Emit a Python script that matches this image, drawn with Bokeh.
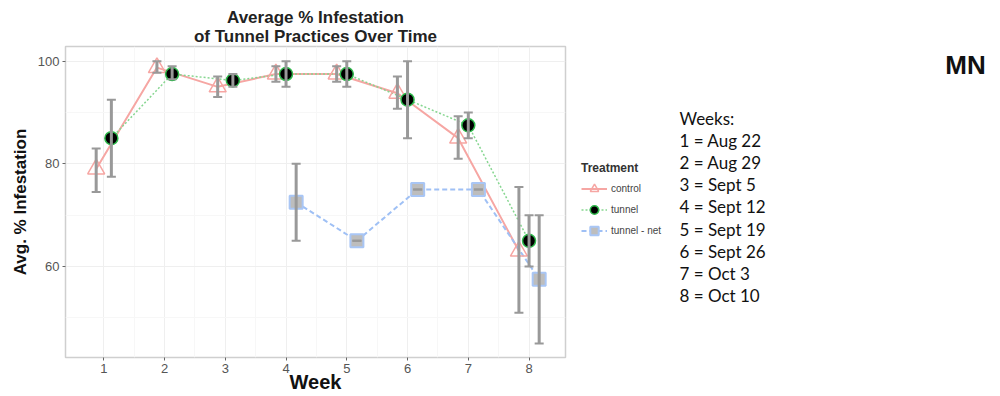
from bokeh.plotting import figure
from bokeh.layouts import row
from bokeh.models import (Range1d, ColumnDataSource, Whisker, TeeHead, Legend,
                          LegendItem, FixedTicker, Title)
from bokeh.core.properties import value
from bokeh.embed import file_html
from bokeh.resources import INLINE

# ---------------- data ----------------
weeks = [1, 2, 3, 4, 5, 6, 7, 8]
week_dates = ["Aug 22", "Aug 29", "Sept 5", "Sept 12", "Sept 19", "Sept 26", "Oct 3", "Oct 10"]

control_weeks = [1, 2, 3, 4, 5, 6, 7, 8]
control_mean = [79, 98.75, 95, 97.5, 97.5, 93.75, 85, 63]
control_lo = [74.5, 97.75, 93, 96, 96, 90.75, 81, 51]
control_hi = [83, 100, 97, 99, 99, 97, 89.25, 75.5]

tunnel_weeks = [1, 2, 3, 4, 5, 6, 7, 8]
tunnel_mean = [85, 97.5, 96.25, 97.5, 97.5, 92.5, 87.5, 65]
tunnel_lo = [77.5, 96.5, 95, 95, 95, 85, 85, 60]
tunnel_hi = [92.5, 99, 97.5, 100, 100, 100, 90, 70]

net_weeks = [4, 5, 6, 7, 8]
net_mean = [72.5, 65, 75, 75, 57.5]
net_lo = [65, 65, 75, 75, 45]
net_hi = [80, 65, 75, 75, 70]

groups = ["control", "tunnel", "tunnel - net"]
group_weeks = [control_weeks, tunnel_weeks, net_weeks]

# ---------------- dodge (like position_dodge(width=0.5)) ----------------
DODGE = 0.5
def dodged(gi):
    out = []
    for w in group_weeks[gi]:
        present = [k for k in range(len(groups)) if w in group_weeks[k]]
        n = len(present)
        i = present.index(gi)
        out.append(w + (i - (n - 1) / 2) * DODGE / n)
    return out

cx, tx, nx = dodged(0), dodged(1), dodged(2)

# ---------------- main figure ----------------
TOTAL_W, H = 1000, 396
W1 = 575
BL, BT, FW, FH = 65, 46, 500, 311
BR = W1 - BL - FW
BB = H - BT - FH
X0, X1 = 0.37, 8.6
Y0, Y1 = 42.27, 102.86
FONT = "Liberation Sans"

p = figure(width=W1, height=H, output_backend="svg", toolbar_location=None,
           x_range=Range1d(X0, X1), y_range=Range1d(Y0, Y1),
           min_border_left=BL, min_border_right=BR,
           min_border_top=BT, min_border_bottom=BB)
p.background_fill_color = "white"
p.border_fill_color = "white"
p.outline_line_color = "#cfcfcf"
p.outline_line_width = 1.5

# title (two lines, stacked outward from the frame)
for txt, so in [("of Tunnel Practices Over Time", 1), ("Average % Infestation", -4)]:
    p.add_layout(Title(text=txt, align="center", text_font=FONT,
                       text_font_size="17px", text_font_style="bold",
                       text_color="#222222", standoff=so, offset=0), "above")

p.xaxis.ticker = FixedTicker(ticks=weeks, minor_ticks=[w + 0.5 for w in weeks[:-1]])
p.yaxis.ticker = FixedTicker(ticks=[60, 80, 100], minor_ticks=[50, 70, 90])
for ax in (p.xaxis, p.yaxis):
    ax.axis_line_color = None
    ax.major_tick_line_color = "#666666"
    ax.major_tick_out = 3
    ax.major_tick_in = 0
    ax.minor_tick_line_color = None
    ax.major_label_standoff = 2
    ax.major_label_text_font_size = "13px"
    ax.major_label_text_color = "#555555"
    ax.major_label_text_font = FONT
    ax.axis_label_text_font = FONT
    ax.axis_label_text_font_style = "bold"
    ax.axis_label_text_color = "#111111"
p.yaxis.axis_label = "Avg. % Infestation"
p.yaxis.axis_label_text_font_size = "17px"
p.yaxis.axis_label_standoff = 5
p.xaxis.axis_label = "Week"
p.xaxis.axis_label_text_font_size = "20px"
p.xaxis.axis_label_standoff = -5

p.xgrid.grid_line_color = "#efefef"
p.ygrid.grid_line_color = "#efefef"
p.xgrid.minor_grid_line_color = "#f7f7f7"
p.ygrid.minor_grid_line_color = "#f7f7f7"

# ---------------- series ----------------
C_COL, T_COL, N_COL = "#f6a6a3", "#86d690", "#9fc0f5"
C_STYLE = dict(marker="triangle", size=17, fill_color=None, line_color=C_COL, line_width=1.5)
T_STYLE = dict(marker="circle", size=13, fill_color="black", line_color="#2fb94c", line_width=1.5)
N_STYLE = dict(marker="square", size=13, fill_color="#bdbdbd", line_color="#a9c6f5", line_width=2)
CL_STYLE = dict(line_color=C_COL, line_width=2)
TL_STYLE = dict(line_color=T_COL, line_width=1.5, line_dash="2 2")
NL_STYLE = dict(line_color=N_COL, line_width=2, line_dash="5 3")

src_c = ColumnDataSource(dict(x=cx, y=control_mean, lo=control_lo, hi=control_hi))
src_t = ColumnDataSource(dict(x=tx, y=tunnel_mean, lo=tunnel_lo, hi=tunnel_hi))
src_n = ColumnDataSource(dict(x=nx, y=net_mean, lo=net_lo, hi=net_hi))

p.line("x", "y", source=src_c, **CL_STYLE)
p.line("x", "y", source=src_t, **TL_STYLE)
p.line("x", "y", source=src_n, **NL_STYLE)
p.scatter("x", "y", source=src_c, **C_STYLE)
p.scatter("x", "y", source=src_t, **T_STYLE)
p.scatter("x", "y", source=src_n, **N_STYLE)

ERR = "#999999"
for src in (src_c, src_t, src_n):
    wk = Whisker(source=src, base="x", upper="hi", lower="lo", dimension="height",
                 line_color=ERR, line_width=3, level="overlay",
                 upper_head=TeeHead(size=9, line_color=ERR, line_width=2),
                 lower_head=TeeHead(size=9, line_color=ERR, line_width=2))
    p.add_layout(wk)

# ---------------- right-hand panel: legend + week key ----------------
W2 = TOTAL_W - W1
q = figure(width=W2, height=H, output_backend="svg", toolbar_location=None,
           x_range=Range1d(W1, TOTAL_W), y_range=Range1d(BT + FH, BT),
           min_border_left=0, min_border_right=0,
           min_border_top=BT, min_border_bottom=BB,
           x_axis_location=None, y_axis_location=None)
q.grid.visible = False
q.outline_line_color = None
q.background_fill_color = "white"
q.border_fill_color = "white"

# legend proxies (hidden copies of the series, only used to draw the keys)
items = []
for gi, (src, ls, ms) in enumerate([(src_c, CL_STYLE, C_STYLE),
                                    (src_t, TL_STYLE, T_STYLE),
                                    (src_n, NL_STYLE, N_STYLE)]):
    r1 = q.line("x", "y", source=src, visible=False, **ls)
    r2 = q.scatter("x", "y", source=src, visible=False, **ms)
    items.append(LegendItem(label=groups[gi], renderers=[r1, r2]))

legend = Legend(items=items, location=(6, 116), title="Treatment")
legend.title_text_font = FONT
legend.title_text_font_size = "12px"
legend.title_text_font_style = "bold"
legend.title_text_color = "#333333"
legend.title_standoff = 3
legend.label_text_font = FONT
legend.label_text_font_size = "10px"
legend.label_text_color = "#444444"
legend.glyph_width = 26
legend.glyph_height = 21
legend.label_standoff = 4
legend.spacing = 0
legend.padding = 2
legend.margin = 0
legend.border_line_color = None
legend.background_fill_alpha = 0
q.add_layout(legend, "center")

lines = ["Weeks:"] + [f"{w} = {d}" for w, d in zip(weeks, week_dates)]
q.text(x=[679] * len(lines), y=[118 + i * 22.1 for i in range(len(lines))], text=lines,
       text_font=value("Lato"), text_font_size="17px", text_color="#111111",
       text_align="left", text_baseline="middle")
q.text(x=[965], y=[64], text=["MN"], text_font=value(FONT),
       text_font_size="26px", text_font_style="bold", text_color="#111111",
       text_align="center", text_baseline="middle")

layout = row(p, q, spacing=0)
open("out.html", "w").write(file_html(layout, INLINE))
